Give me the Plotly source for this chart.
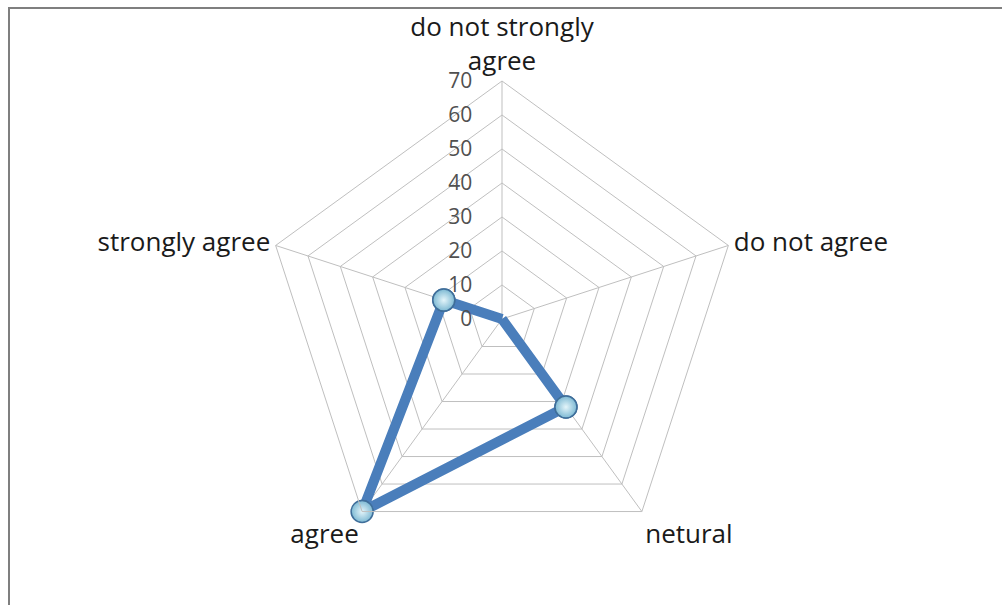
import plotly.graph_objects as go

categories = ["do not strongly<br>agree", "do not agree", "netural", "agree", "strongly agree"]
values = [0, 0, 32, 70, 18]
radial_ticks = [0, 10, 20, 30, 40, 50, 60, 70]

theta = categories + categories[:1]
r = values + values[:1]

marker_style = dict(size=22, color="#7DB9D3",
                    gradient=dict(type="radial", color="#E4F5FA"),
                    line=dict(color="#3F6E9A", width=1.5))

fig = go.Figure()
# line + markers (unclipped, shows markers on the outer edge)
fig.add_trace(go.Scatterpolar(
    r=r, theta=theta, mode="lines+markers",
    line=dict(color="#4A7EBB", width=10),
    marker=marker_style,
    cliponaxis=False,
    showlegend=False, hoverinfo="r+theta",
))
# same markers, clipped mode (shows markers lying at the centre)
fig.add_trace(go.Scatterpolar(
    r=values, theta=categories, mode="markers",
    marker=marker_style,
    cliponaxis=True,
    showlegend=False, hoverinfo="skip",
))

R = 238
cx, cy = 502, 319
W, H = 1002, 605
fig.update_layout(
    width=W, height=H,
    margin=dict(l=0, r=0, t=0, b=0),
    paper_bgcolor="white",
    font=dict(family="Open Sans, Noto Sans, sans-serif", color="#222222"),
    polar=dict(
        domain=dict(x=[(cx - R) / W, (cx + R) / W],
                    y=[(H - cy - R) / H, (H - cy + R) / H]),
        bgcolor="white",
        gridshape="linear",
        angularaxis=dict(
            rotation=90, direction="clockwise",
            showline=True, linecolor="#BFBFBF", linewidth=1,
            gridcolor="#BFBFBF", gridwidth=1,
            ticks="", tickfont=dict(size=26, color="#1a1a1a"),
        ),
        radialaxis=dict(
            range=[0, 70], tickvals=radial_ticks,
            ticktext=[str(v) for v in radial_ticks],
            angle=90, tickangle=90, side="counterclockwise",
            showline=False, gridcolor="#BFBFBF", gridwidth=1,
            ticks="outside", ticklen=22, tickcolor="rgba(0,0,0,0)",
            tickfont=dict(size=21, color="#505050"),
        ),
    ),
    shapes=[dict(type="rect", xref="paper", yref="paper",
                 x0=9 / W, x1=1.02, y0=-0.02, y1=1 - 8 / H,
                 line=dict(color="#7F7F7F", width=2))],
)

fig.write_html("out.html")
